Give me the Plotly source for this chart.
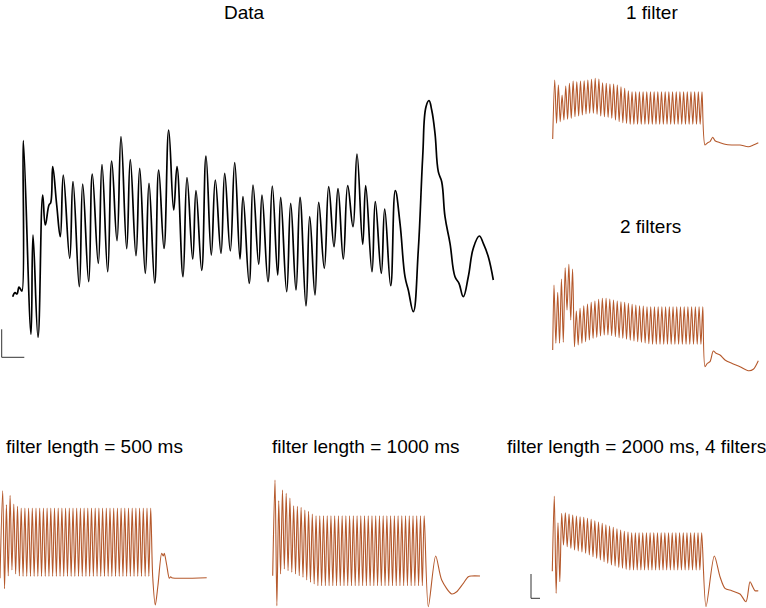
import plotly.graph_objects as go

W, H = 766, 608

# ---------------- Data (recorded trace) ----------------
data_t = [0.7, 3, 5, 7, 9, 10, 11.3, 19, 21, 26, 30.7, 33.3, 37, 38.7, 40.7, 44.7, 48.3, 51.3, 57.7, 61,
          67.3, 70.7, 76.7, 80.3, 86.3, 90, 95.7, 99.7, 105, 109, 114.7, 118.3, 124, 127.7, 133.3, 137,
          142.7, 146.7, 152, 156.7, 161.7, 165, 171, 175, 180.7, 184, 189.7, 194, 199.3, 203.3, 209,
          212.7, 218.3, 222.7, 228, 231, 237.2, 241, 246.7, 250, 256, 260.3, 265.7, 268.7, 274.7, 278.7,
          284, 288, 294, 297.7, 303, 306.7, 312.3, 316.7, 322, 326, 331.3, 335.7, 341, 345, 350.7, 353.7,
          360, 363.3, 369.3, 372.7, 378.7, 383.3, 388, 393, 396.3, 401.3, 406.3, 410.7, 414, 417, 419.7,
          423, 426.3, 429.7, 433, 438, 443, 447, 451.3, 456.3, 461.3, 467.3, 471.3, 476.3, 481.3]
data_v = [43.3, 47.3, 46, 53, 50, 49, 199.3, 5.7, 105, 2.7, 145, 115, 135, 137.3, 173.3, 135, 103.3, 165, 81.7, 158.3,
          53.3, 156, 58.3, 166, 76.7, 175.3, 68.3, 179, 99.3, 203.3, 91.3, 180.3, 84.3, 171.7, 66.7, 156.7,
          57, 170, 91.7, 210, 130, 173.3, 63.3, 162.3, 81, 149.3, 69.7, 184, 85, 160, 86.7,
          166.7, 89, 177.3, 81, 143.3, 56.7, 155, 75.7, 145, 58.3, 154, 65, 142.7, 48.3, 136.7,
          50, 142.7, 34, 123.3, 45, 137.7, 71.7, 153.3, 93.3, 151.3, 81, 154.3, 113.3, 186, 95.7, 154.3,
          68.3, 138.3, 66.7, 131, 54.3, 149.3, 116.7, 63.3, 50, 28.3, 90, 183.3, 233.3, 239.3, 230,
          206.7, 168.3, 158.3, 123.3, 96.7, 63.3, 56.7, 43.3, 63.3, 91.7, 104, 96.7, 83.3, 60]
data_scalebar = dict(t0=-10.3, v0=-17.3, dt=22.6, dv=28)

# ---------------- 1 filter ----------------
f1_start = (0.7, 11)
f1_first_peak, f1_period = 2.7, 3.683
f1_peaks = [70, 65, 55, 64, 66.7, 69, 68.3, 69, 69.3, 70, 70.7, 71.7, 71, 67.3, 66.7, 66, 66, 65, 63.3, 61.7, 59.3,
            58.3, 58.3, 58.3, 58.3, 58.3, 58.3, 58.3, 58.3, 58.3, 58.3,
            58.3, 58.3, 58.3, 58.3, 58.3, 58.3, 58.3, 58.3, 58.3, 58.3]
f1_troughs = [26.7, 28.3, 30, 30.7, 31.7, 33.3, 34, 35, 36, 36.7, 36.7, 35.7, 34, 33.3, 32.7, 31.7, 30, 28.3, 27.3, 26.7,
              25.7, 25.7, 25.7, 25.7, 25.7, 25.7, 25.7, 25.7, 25.7, 25.7,
              25.7, 25.7, 25.7, 25.7, 25.7, 25.7, 25.7, 25.7, 25.7, 25.7]
f1_post_t = [153, 155.7, 158, 160.7, 163, 168, 173, 179.7, 188, 196.3, 201.3, 206.3]
f1_post_v = [5, 7.3, 8.3, 12.7, 9.3, 7.3, 5.7, 5, 5, 3.3, 5, 7.3]

# ---------------- 2 filters ----------------
f2_start = (0.7, 25)
f2_first_peak, f2_period = 2.0, 3.72
f2_peaks = [90, 82.7, 96, 107.3, 110.7, 106, 64, 66.7, 69.3, 71, 72.7, 74, 75.7, 76.7, 76.7, 76, 75, 74, 73.3,
            72.7, 71.7, 70.7, 70, 69.3, 69,
            68.3, 68.3, 68.3, 68.3, 68.3, 68.3, 68.3, 68.3, 68.3, 68.3, 68.3, 68.3, 68.3, 68.3, 68.3, 68.3]
f2_troughs = [31.7, 31.7, 32.7, 65, 55, 28.3, 30, 31.7, 33.3, 35, 36.7, 37.7, 39, 40, 40, 39.3, 38.3, 37.3, 36.7,
              35.7, 34.7, 34, 33.3, 32.7, 32, 31.3,
              30.7, 30.7, 30.7, 30.7, 30.7, 30.7, 30.7, 30.7, 30.7, 30.7, 30.7, 30.7, 30.7, 30.7]
f2_post_t = [153, 155.3, 158, 161.3, 164, 168, 173, 179.7, 188, 196.3, 201.3, 206.3]
f2_post_v = [8.3, 11.7, 13.3, 24, 21.7, 20, 15, 11.7, 8.3, 4.3, 5.7, 14.3]

# ---------------- filter length = 500 ms ----------------
l500_start = (0, 31.7)
l500_first_peak, l500_period = 2.7, 3.7
l500_peaks = [119.3, 105.3, 114.7, 106, 103.7,
              102, 102, 102, 102, 102, 102, 102, 102, 102, 102, 102, 102, 102, 102, 102, 102, 102, 102,
              102, 102, 102, 102, 102, 102, 102, 102, 102, 102, 102, 102, 102, 102, 102, 102, 102, 102]
l500_troughs = [21.3, 34, 40, 36, 34,
                33.7, 33.7, 33.7, 33.7, 33.7, 33.7, 33.7, 33.7, 33.7, 33.7, 33.7, 33.7, 33.7, 33.7, 33.7,
                33.7, 33.7, 33.7, 33.7, 33.7, 33.7, 33.7, 33.7, 33.7, 33.7, 33.7, 33.7, 33.7, 33.7, 33.7,
                33.7, 33.7, 33.7, 33.7, 33.7]
l500_post_t = [152.7, 155.3, 158, 161.7, 163.3, 164.3, 166.7, 169.3, 170.7, 171.7, 206.7]
l500_post_v = [33.3, 5, 25, 56.7, 54, 56.7, 45, 31.7, 33.3, 32.3, 32.3]

# ---------------- filter length = 1000 ms ----------------
l1000_start = (6.7, 34.3)
l1000_first_peak, l1000_period = 9.0, 3.73
l1000_peaks = [130, 109.3, 120, 116.7, 112, 104.3, 103.7, 102.7, 100, 98.7, 96,
               94.3, 94.3, 94.3, 94.3, 94.3, 94.3, 94.3, 94.3, 94.3, 94.3, 94.3, 94.3, 94.3, 94.3, 94.3,
               94.3, 94.3, 94.3, 94.3, 94.3, 94.3, 94.3, 94.3, 94.3, 94.3, 94.3, 94.3, 94.3, 94.3, 94.3]
l1000_troughs = [4.3, 36, 41, 39.3, 37.7, 36, 34.3, 32.7, 30, 27.7, 26,
                 24.3, 24.3, 24.3, 24.3, 24.3, 24.3, 24.3, 24.3, 24.3, 24.3, 24.3, 24.3, 24.3, 24.3,
                 24.3, 24.3, 24.3, 24.3, 24.3, 24.3, 24.3, 24.3, 24.3, 24.3, 24.3, 24.3, 24.3, 24.3, 24.3]
l1000_post_t = [162.3, 169.7, 175.7, 185.7, 190.7, 197.3, 202.3, 205.7, 214]
l1000_post_v = [3.3, 54, 30, 16, 18.3, 26.7, 33.3, 34, 34]

# ---------------- filter length = 2000 ms, 4 filters ----------------
l2000_start = (7.3, 38.7)
l2000_first_peak, l2000_period = 9.3, 3.685
l2000_peaks = [114, 87.3, 96.7, 97.3, 96, 95, 94, 93.3, 92.7, 91.7, 90.7, 89.3, 88, 86.7, 85.3, 84, 82.7, 81.3,
               80, 78.7, 78,
               77.3, 77.3, 77.3, 77.3, 77.3, 77.3, 77.3, 77.3, 77.3, 77.3,
               77.3, 77.3, 77.3, 77.3, 77.3, 77.3, 77.3, 77.3, 77.3, 77.3]
l2000_troughs = [16.7, 28.3, 65, 63.3, 61.7, 60, 59, 58, 56.7, 55, 53.3, 51.7, 50, 48.3, 46.7, 45, 44, 42.7,
                 41.7, 40.7,
                 40, 40, 40, 40, 40, 40, 40, 40, 40, 40, 40, 40, 40, 40, 40, 40, 40, 40, 40, 40]
l2000_post_t = [161, 169.3, 175, 180, 186.7, 195, 201, 205, 207.7, 210, 213.3]
l2000_post_v = [3.3, 54, 33.3, 21.7, 19.3, 16, 8.3, 28.3, 23.3, 19.3, 19.3]
l2000_scalebar = dict(t0=-14, v0=11.7, dt=9, dv=24.3)

titles = ["Data", "1 filter", "2 filters", "filter length = 500 ms",
          "filter length = 1000 ms", "filter length = 2000 ms, 4 filters"]


def build(start, t_first, period, peaks, troughs, post_t, post_v):
    xs, ys = [start[0]], [start[1]]
    for i, pk in enumerate(peaks):
        xs.append(t_first + i * period)
        ys.append(pk)
        if i < len(troughs):
            xs.append(t_first + (i + 0.5) * period)
            ys.append(troughs[i])
    return xs + list(post_t), ys + list(post_v)


series = [
    (data_t, data_v),
    build(f1_start, f1_first_peak, f1_period, f1_peaks, f1_troughs, f1_post_t, f1_post_v),
    build(f2_start, f2_first_peak, f2_period, f2_peaks, f2_troughs, f2_post_t, f2_post_v),
    build(l500_start, l500_first_peak, l500_period, l500_peaks, l500_troughs, l500_post_t, l500_post_v),
    build(l1000_start, l1000_first_peak, l1000_period, l1000_peaks, l1000_troughs, l1000_post_t, l1000_post_v),
    build(l2000_start, l2000_first_peak, l2000_period, l2000_peaks, l2000_troughs, l2000_post_t, l2000_post_v),
]

# layout: pixel boxes (left, right, top, bottom) and data offsets so 1 unit = 1 px
boxes = [(0, 500, 90, 365), (545, 766, 70, 155), (545, 766, 255, 380),
         (0, 240, 480, 608), (260, 490, 470, 608), (520, 766, 480, 608)]
offsets = [(12, 340), (552, 150), (552, 375), (0, 610), (266, 610), (545, 610)]
title_pos = [(244, 12), (652, 12), (650, 226), (94, 446), (365, 446), (636, 446)]

DATA_COLOR = "#000000"
FILT_COLOR = "#b5592c"

fig = go.Figure()
layout = dict(width=W, height=H, autosize=False, margin=dict(l=0, r=0, t=0, b=0, pad=0),
              paper_bgcolor="white", plot_bgcolor="rgba(0,0,0,0)", showlegend=False)

for i, ((xs, ys), box, off) in enumerate(zip(series, boxes, offsets)):
    sfx = "" if i == 0 else str(i + 1)
    color = DATA_COLOR if i == 0 else FILT_COLOR
    width = 1.7 if i == 0 else 1.1
    smooth = 1.2 if i == 0 else 0.8
    fig.add_trace(go.Scatter(x=xs, y=ys, mode="lines", xaxis="x" + sfx, yaxis="y" + sfx,
                             line=dict(color=color, width=width, shape="spline", smoothing=smooth),
                             hoverinfo="skip"))
    l, r, t, b = box
    to, vo = off
    layout["xaxis" + sfx] = dict(domain=[l / W, r / W], range=[l - to, r - to], visible=False,
                                 anchor="y" + sfx, fixedrange=True)
    layout["yaxis" + sfx] = dict(domain=[1 - b / H, 1 - t / H], range=[vo - b, vo - t], visible=False,
                                 anchor="x" + sfx, fixedrange=True)

# scale bars
for sb, sfx in [(data_scalebar, ""), (l2000_scalebar, "6")]:
    fig.add_trace(go.Scatter(x=[sb["t0"], sb["t0"], sb["t0"] + sb["dt"]],
                             y=[sb["v0"] + sb["dv"], sb["v0"], sb["v0"]],
                             mode="lines", xaxis="x" + sfx, yaxis="y" + sfx,
                             line=dict(color="#333333", width=1), hoverinfo="skip"))

annotations = []
for text, (px, py) in zip(titles, title_pos):
    annotations.append(dict(text=text, x=px / W, y=1 - py / H, xref="paper", yref="paper",
                            showarrow=False, xanchor="center", yanchor="middle",
                            font=dict(family="Liberation Sans, Arial, sans-serif", size=19, color="black")))
layout["annotations"] = annotations

fig.update_layout(**layout)
fig.write_html("out.html", config={"displayModeBar": False},
               post_script="document.body.style.margin='0';document.body.style.overflow='hidden';")
